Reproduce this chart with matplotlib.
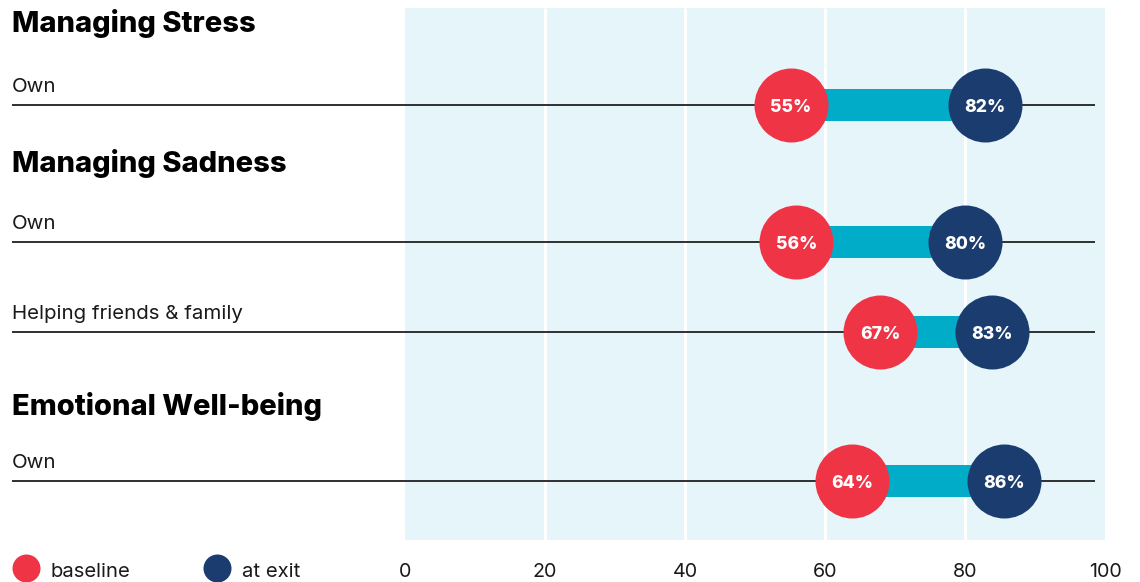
import matplotlib
matplotlib.use("Agg")
import matplotlib.pyplot as plt
from matplotlib.patches import Rectangle

# ---------------- data ----------------
section_titles = ["Managing Stress", "Managing Sadness", "Emotional Well-being"]
row_labels = ["Own", "Own", "Helping friends & family", "Own"]
baseline_values = [55.1, 55.9, 67.9, 63.9]
exit_values = [82.9, 80.0, 83.9, 85.6]
baseline_labels = ["55%", "56%", "67%", "64%"]
exit_labels = ["82%", "80%", "83%", "86%"]
x_ticks = [0, 20, 40, 60, 80, 100]
legend_labels = ["baseline", "at exit"]

# ---------------- style ----------------
RED = "#EF3446"
NAVY = "#1A3C6E"
TEAL = "#00ACC8"
PANEL = "#E5F5F9"
LINE = "#1F1F1F"
TEXT = "#1A1A1A"
FONT = ["Inter", "DejaVu Sans"]

W, H, DPI = 1140, 582, 100
PX_PER_UNIT = 7.0
X0_PX = 405.0


def px2v(px):
    return (px - X0_PX) / PX_PER_UNIT


def pt(px):
    return px * 72.0 / DPI


fig = plt.figure(figsize=(W / DPI, H / DPI), dpi=DPI)
ax = fig.add_axes([0, 0, 1, 1])
ax.set_xlim(px2v(0), px2v(W))
ax.set_ylim(H, 0)
ax.axis("off")
renderer = fig.canvas.get_renderer()


def fit_size(sample, target_px, weight, start=14.0):
    t = ax.text(0, 0, sample, fontsize=start, fontweight=weight, family=FONT)
    w = t.get_window_extent(renderer).width
    t.remove()
    return start * target_px / w


# layout (pixel rows)
row_y = [105, 242, 332, 481]
title_baseline = [32, 172, 415]
panel_top, panel_bottom = 8, 540

TITLE_W = "heavy"
title_fs = fit_size("Emotional Well-being", 311, TITLE_W)
label_fs = fit_size("Helping friends & family", 231, "normal")
pct_fs = fit_size("55%", 41, TITLE_W)
tick_fs = fit_size("100", 33, "normal")
leg_fs = fit_size("baseline", 80, "normal")

# background panel & gridlines
ax.add_patch(Rectangle((0, panel_top), 100, panel_bottom - panel_top,
                       facecolor=PANEL, edgecolor="none", zorder=0))
for t in x_ticks[1:-1]:
    ax.plot([t, t], [panel_top, panel_bottom], color="white", lw=pt(3), zorder=1,
            solid_capstyle="butt")

# tick labels
for t in x_ticks:
    ax.text(t, 577, str(t), ha="center", va="baseline", fontsize=tick_fs,
            color=TEXT, family=FONT)

# section titles
for i, title in enumerate(section_titles):
    ax.text(px2v(12), title_baseline[i], title, ha="left", va="baseline",
            fontsize=title_fs, fontweight=TITLE_W, color="black", family=FONT)

circle_d = 74
s_big = pt(circle_d) ** 2
for i, lab in enumerate(row_labels):
    y = row_y[i]
    ax.text(px2v(12), y - 13, lab, ha="left", va="baseline", fontsize=label_fs,
            color=TEXT, family=FONT)
    ax.plot([px2v(12), px2v(1095)], [y, y], color=LINE, lw=pt(1.8), zorder=2,
            solid_capstyle="butt")
    ax.barh(y, exit_values[i] - baseline_values[i], left=baseline_values[i],
            height=32, color=TEAL, zorder=3)
    ax.scatter([baseline_values[i]], [y], s=s_big, color=RED, zorder=4,
               linewidths=0)
    ax.scatter([exit_values[i]], [y], s=s_big, color=NAVY, zorder=4,
               linewidths=0)
    ax.text(baseline_values[i], y + 7, baseline_labels[i], ha="center",
            va="baseline", color="white", fontsize=pct_fs, fontweight=TITLE_W,
            family=FONT, zorder=5)
    ax.text(exit_values[i], y + 7, exit_labels[i], ha="center",
            va="baseline", color="white", fontsize=pct_fs, fontweight=TITLE_W,
            family=FONT, zorder=5)

# legend (markers + labels)
legend_colors = [RED, NAVY]
legend_marker_px = [26, 217]
for c, mx, lab in zip(legend_colors, legend_marker_px, legend_labels):
    ax.scatter([px2v(mx)], [568], s=pt(28) ** 2, color=c, linewidths=0,
               clip_on=False, zorder=4)
    ax.text(px2v(mx + 25), 577, lab, ha="left", va="baseline",
            fontsize=leg_fs, color=TEXT, family=FONT)

fig.savefig("out.png", dpi=DPI, facecolor="white")
